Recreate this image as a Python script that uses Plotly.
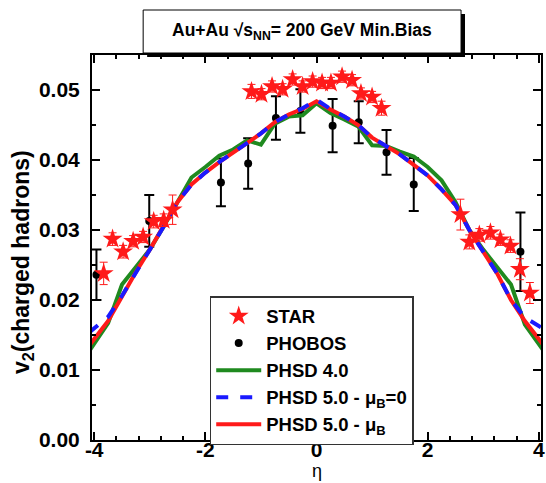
import plotly.graph_objects as go

# STAR charged-hadron v2 vs pseudorapidity
star_eta = [-3.83, -3.67, -3.48, -3.30, -3.12, -2.93, -2.75, -2.59,
            -1.17, -0.99, -0.80, -0.61, -0.43, -0.25, -0.07,
            0.10, 0.26, 0.46, 0.64, 0.80, 1.00, 1.17,
            2.59, 2.75, 2.93, 3.13, 3.31, 3.49, 3.66, 3.84]
star_v2 = [0.0238, 0.0287, 0.0269, 0.0284, 0.0290, 0.0312, 0.0314, 0.0329,
           0.0498, 0.0494, 0.0505, 0.0501, 0.0515, 0.0505, 0.0512,
           0.0510, 0.0510, 0.0519, 0.0514, 0.0495, 0.0490, 0.0474,
           0.0322, 0.0283, 0.0293, 0.0296, 0.0286, 0.0277, 0.0244, 0.0210]
star_err = [0.0016, 0.0009, 0.0009, 0.0008, 0.0008, 0.0009, 0.0009, 0.0021,
            0.0010, 0.0008, 0.0008, 0.0008, 0.0008, 0.0008, 0.0008,
            0.0008, 0.0008, 0.0008, 0.0008, 0.0008, 0.0008, 0.0010,
            0.0022, 0.0010, 0.0009, 0.0009, 0.0008, 0.0009, 0.0015, 0.0015]

# PHOBOS charged-hadron v2 vs pseudorapidity
phobos_eta = [-3.96, -3.01, -1.72, -1.23, -0.73, -0.29, 0.29, 0.76, 1.26, 1.75, 3.67]
phobos_v2 = [0.0236, 0.0313, 0.0368, 0.0395, 0.0460, 0.0470, 0.0449, 0.0454, 0.0411, 0.0365, 0.0269]
phobos_err = [0.0036, 0.0037, 0.0034, 0.0036, 0.0031, 0.0031, 0.0038, 0.0030, 0.0032, 0.0038, 0.0056]

# PHSD model curves
model_eta = [-4.1, -3.75, -3.5, -3.25, -3.0, -2.75, -2.5, -2.25, -2.0, -1.75, -1.5, -1.25,
             -1.0, -0.75, -0.5, -0.25, 0.0, 0.25, 0.5, 0.75, 1.0, 1.25, 1.5, 1.75,
             2.0, 2.25, 2.5, 2.75, 3.0, 3.25, 3.5, 3.75, 4.1]
phsd4_v2 = [0.0126, 0.0167, 0.0222, 0.0246, 0.0272, 0.0305, 0.0340, 0.0375, 0.0390, 0.0406, 0.0415, 0.0428,
            0.0422, 0.0452, 0.0462, 0.0464, 0.0481, 0.0467, 0.0458, 0.0448, 0.0421, 0.0420, 0.0412, 0.0405,
            0.0390, 0.0371, 0.0340, 0.0300, 0.0272, 0.0248, 0.0222, 0.0165, 0.0126]
phsd5_mu0_v2 = [0.0153, 0.0176, 0.0206, 0.0240, 0.0272, 0.0305, 0.0340, 0.0365, 0.0382, 0.0397, 0.0410, 0.0424,
                0.0438, 0.0454, 0.0465, 0.0474, 0.0486, 0.0473, 0.0462, 0.0450, 0.0432, 0.0420, 0.0408, 0.0393,
                0.0378, 0.0358, 0.0336, 0.0300, 0.0270, 0.0238, 0.0200, 0.0175, 0.0158]
phsd5_mub_v2 = [0.0134, 0.0170, 0.0205, 0.0240, 0.0272, 0.0305, 0.0340, 0.0365, 0.0382, 0.0397, 0.0410, 0.0424,
                0.0438, 0.0454, 0.0465, 0.0473, 0.0484, 0.0472, 0.0462, 0.0450, 0.0432, 0.0420, 0.0408, 0.0393,
                0.0378, 0.0358, 0.0336, 0.0300, 0.0270, 0.0238, 0.0200, 0.0170, 0.0134]

y_ticks = [0.00, 0.01, 0.02, 0.03, 0.04, 0.05]
x_ticks = [-4, -2, 0, 2, 4]

FONT = "Arial, Liberation Sans, sans-serif"
W, H = 546, 483
ML, MR, MT, MB = 91.5, 2.5, 55, 43

fig = go.Figure()

fig.add_trace(go.Scatter(
    x=phobos_eta, y=phobos_v2, mode="markers", name="PHOBOS",
    marker=dict(symbol="circle", size=8, color="black"),
    error_y=dict(type="data", array=phobos_err, color="black", thickness=2, width=5),
    legendrank=2))

fig.add_trace(go.Scatter(
    x=model_eta, y=phsd4_v2, mode="lines", name="PHSD 4.0",
    line=dict(color="#1f8a1f", width=4),
    legendrank=3))
fig.add_trace(go.Scatter(
    x=model_eta, y=phsd5_mub_v2, mode="lines", name="PHSD 5.0 - μ<sub>B</sub>",
    line=dict(color="#ff1a1a", width=4),
    legendrank=5))
fig.add_trace(go.Scatter(
    x=model_eta, y=phsd5_mu0_v2, mode="lines", name="PHSD 5.0 - μ<sub>B</sub>=0",
    line=dict(color="#1a1aff", width=4, dash="dash"),
    legendrank=4))

fig.add_trace(go.Scatter(
    x=star_eta, y=star_v2, mode="markers", name="STAR",
    marker=dict(symbol="star", size=15, color="#ff1a1a", line=dict(width=0)),
    error_y=dict(type="data", array=star_err, color="#ff1a1a", thickness=1, width=4),
    legendrank=1))


def px_x(p):
    return (p - ML) / (W - ML - MR)


def px_y(p):
    return (H - MB - p) / (H - MB - MT)


# framed title with drop shadow
fig.add_shape(type="rect", xref="paper", yref="paper",
              x0=px_x(147), x1=px_x(467), y0=px_y(57), y1=px_y(14),
              fillcolor="black", line=dict(width=0), layer="above")
fig.add_shape(type="rect", xref="paper", yref="paper",
              x0=px_x(143), x1=px_x(463), y0=px_y(53), y1=px_y(10),
              fillcolor="white", line=dict(color="black", width=1), layer="above")
fig.add_annotation(xref="paper", yref="paper", x=px_x(303), y=px_y(31.5),
                   text="<b>Au+Au √s<sub>NN</sub>= 200 GeV Min.Bias</b>",
                   showarrow=False, font=dict(family=FONT, size=17.5, color="black"),
                   xanchor="center", yanchor="middle")

# axis titles
fig.add_annotation(xref="paper", yref="paper", x=px_x(318), y=px_y(471),
                   text="η", showarrow=False,
                   font=dict(family=FONT, size=18, color="black"),
                   xanchor="center", yanchor="middle")
fig.add_annotation(xref="paper", yref="paper", x=px_x(21), y=px_y(262),
                   text="<b>v<sub>2</sub>(charged hadrons)</b>", showarrow=False,
                   textangle=-90, font=dict(family=FONT, size=23, color="black"),
                   xanchor="center", yanchor="middle")

axis_common = dict(
    showline=True, linecolor="black", linewidth=2, mirror="allticks",
    ticks="inside", ticklen=8, tickwidth=1.5, tickcolor="black",
    showgrid=False, zeroline=False,
    tickfont=dict(family=FONT, size=21, color="black"),
)

fig.update_xaxes(
    range=[-4.04, 4.04], tickmode="array", tickvals=x_ticks,
    ticktext=[f"<b>{v}</b>" for v in x_ticks],
    minor=dict(ticks="inside", ticklen=4, tickwidth=1.5, tickcolor="black", dtick=0.4, tick0=-4),
    ticklabelstandoff=-10,
    **axis_common)
fig.update_yaxes(
    range=[0, 0.055], tickmode="array", tickvals=y_ticks,
    ticktext=[f"<b>{v:.2f}</b>" for v in y_ticks],
    minor=dict(ticks="inside", ticklen=4, tickwidth=1.5, tickcolor="black", dtick=0.005, tick0=0),
    ticklabelstandoff=6,
    **axis_common)

fig.update_layout(
    width=W, height=H,
    margin=dict(l=ML, r=MR, t=MT, b=MB, pad=0),
    paper_bgcolor="white", plot_bgcolor="white",
    font=dict(family=FONT, color="black"),
    showlegend=True,
    legend=dict(
        x=px_x(210), y=px_y(296), xanchor="left", yanchor="top",
        bgcolor="white", bordercolor="#333333", borderwidth=1.5,
        font=dict(family=FONT, size=18.5, color="black", weight="bold"),
        itemwidth=45,
    ),
)

fig.write_html("out.html")
